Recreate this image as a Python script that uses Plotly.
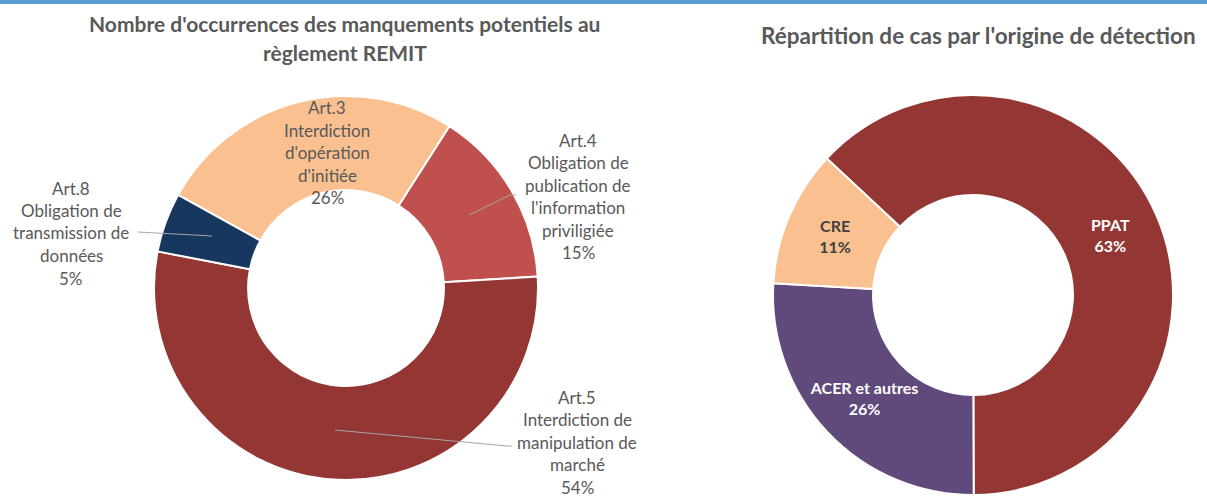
import plotly.graph_objects as go

W, H = 1207, 500

# Left donut data
left_labels = ["Art.3<br>Interdiction<br>d'opération<br>d'initiée",
               "Art.4<br>Obligation de<br>publication de<br>l'information<br>priviligiée",
               "Art.5<br>Interdiction de<br>manipulation de<br>marché",
               "Art.8<br>Obligation de<br>transmission de<br>données"]
left_values = [26, 15, 54, 5]
left_colors = ["#FAC08F", "#C0504D", "#943634", "#17375E"]

# Right donut data
right_labels = ["PPAT", "ACER et autres", "CRE"]
right_values = [63, 26, 11]
right_colors = ["#943634", "#604A7B", "#FAC08F"]
right_text_colors = ["white", "white", "#404040"]

left_title = ["Nombre d'occurrences des manquements potentiels au", "règlement REMIT"]
right_title = "Répartition de cas par l'origine de détection"

FONT = "Lato"
GREY = "#595959"

fig = go.Figure()
fig.add_trace(go.Pie(
    labels=[l.replace("<br>", " ") for l in left_labels], values=left_values, hole=0.51, sort=False,
    direction="clockwise", rotation=-61,
    marker=dict(colors=left_colors, line=dict(color="white", width=2)),
    textinfo="none", hoverinfo="label+percent",
    domain=dict(x=[154 / W, 538 / W], y=[1 - 480 / H, 1 - 96 / H]),
    showlegend=False,
))
fig.add_trace(go.Pie(
    labels=right_labels, values=right_values, hole=0.5, sort=False,
    direction="clockwise", rotation=-47,
    marker=dict(colors=right_colors, line=dict(color="white", width=2)),
    texttemplate="%{label}<br>%{percent:.0%}", textposition="inside",
    insidetextorientation="horizontal",
    textfont=dict(family=FONT, size=16, color=right_text_colors, weight="bold"),
    domain=dict(x=[773 / W, 1173 / W], y=[1 - 495 / H, 1 - 95 / H]),
    showlegend=False,
))

annotations = []
# titles
for i, line in enumerate(left_title):
    annotations.append(dict(text=line, x=345 / W, y=1 - (23 + 30 * i) / H, xref="paper", yref="paper",
                            showarrow=False, xanchor="center", yanchor="middle",
                            font=dict(family=FONT, size=21, color=GREY, weight="bold")))
annotations.append(dict(text=right_title, x=978 / W, y=1 - 35 / H, xref="paper", yref="paper",
                        showarrow=False, xanchor="center", yanchor="middle",
                        font=dict(family=FONT, size=22.5, color=GREY, weight="bold")))

# left labels: center positions (px) of label blocks
label_pos = [(327, 152.5), (578, 196.5), (577, 442), (71, 233)]
total = sum(left_values)
spacing = 22.5
for lab, val, (cx, cy) in zip(left_labels, left_values, label_pos):
    lines = lab.split("<br>") + [f"{round(100 * val / total)}%"]
    n = len(lines)
    for i, line in enumerate(lines):
        yy = cy + (i - (n - 1) / 2) * spacing
        annotations.append(dict(text=line, x=cx / W, y=1 - yy / H, xref="paper", yref="paper",
                                showarrow=False, xanchor="center", yanchor="middle",
                                font=dict(family=FONT, size=17, color=GREY)))

shapes = [dict(type="rect", xref="paper", yref="paper", x0=0, x1=1, y0=1 - 4 / H, y1=1,
               fillcolor="#5B9BD5", line=dict(width=0))]
# leader lines (px paths)
leaders = [
    [(469, 215), (510, 195), (516, 195)],
    [(335, 430), (507, 446), (512, 446)],
    [(212, 236), (138, 232)],
]
for pts in leaders:
    path = "M " + " L ".join(f"{x / W} {1 - y / H}" for x, y in pts)
    shapes.append(dict(type="path", xref="paper", yref="paper", path=path,
                       line=dict(color="#A6A6A6", width=1)))

fig.update_layout(
    width=W, height=H, margin=dict(l=0, r=0, t=0, b=0),
    paper_bgcolor="white", plot_bgcolor="white",
    annotations=annotations, shapes=shapes,
    font=dict(family=FONT),
    uniformtext=dict(minsize=16, mode="show"),
)
fig.write_html("out.html", config={"displayModeBar": False},
               post_script="document.body.style.margin='0';")
